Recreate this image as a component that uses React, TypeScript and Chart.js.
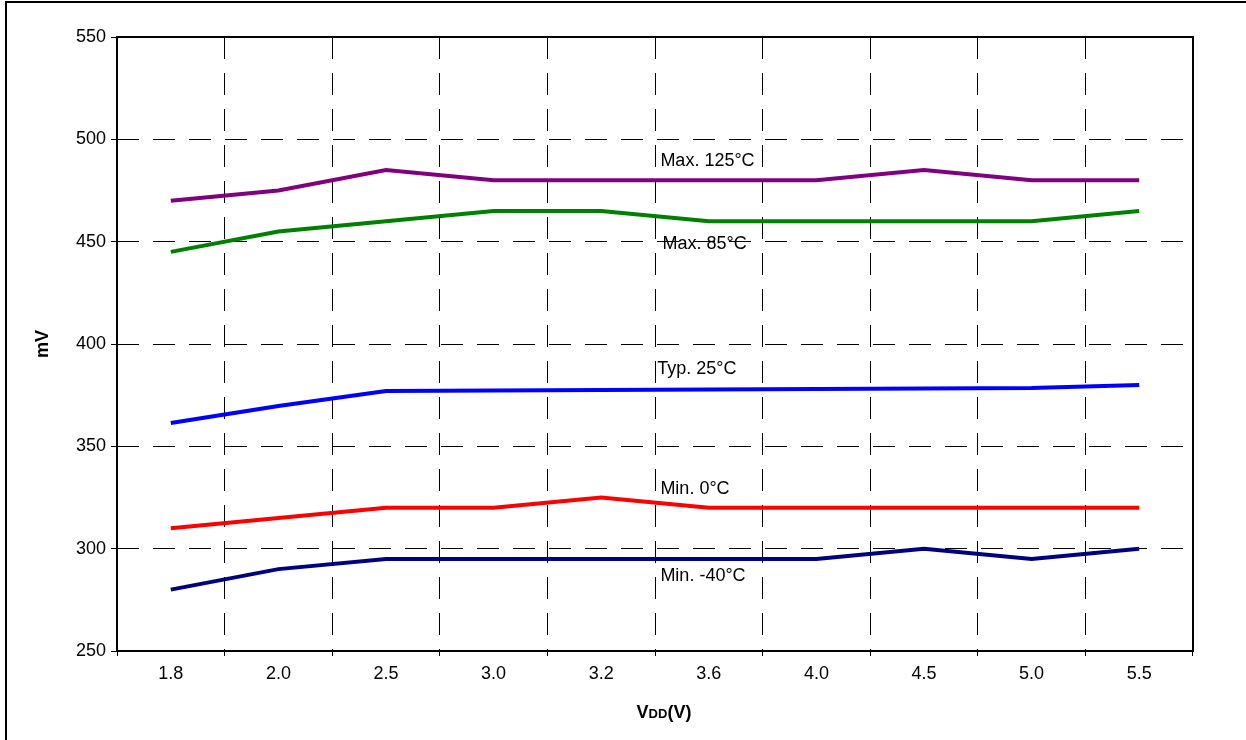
import React, { useEffect, useRef } from "react";
import { Chart, registerables } from "chart.js";

Chart.register(...registerables);

const categories = ["1.8", "2.0", "2.5", "3.0", "3.2", "3.6", "4.0", "4.5", "5.0", "5.5"];
const max125 = [470, 475, 485, 480, 480, 480, 480, 485, 480, 480];
const max85 = [445, 455, 460, 465, 465, 460, 460, 460, 460, 465];
const typ25 = [361.4, 369.7, 377, 377.3, 377.5, 377.8, 378, 378.3, 378.5, 380];
const min0 = [310, 315, 320, 320, 325, 320, 320, 320, 320, 320];
const minNeg40 = [280, 290, 295, 295, 295, 295, 295, 300, 295, 300];

const seriesNames = ["Max. 125°C", "Max. 85°C", "Typ. 25°C", "Min. 0°C", "Min. -40°C"];
const seriesColors = ["#800080", "#008000", "#0000FF", "#FF0000", "#000080"];
// label anchors in data units: [category index, value]
const labelX = [4.55, 4.57, 4.52, 4.55, 4.55];
const labelY = [489.5, 448.8, 388, 329.1, 286.4];

const yMin = 250;
const yMax = 550;
const yStep = 50;

const FONT = "'Liberation Sans', Arial, sans-serif";

const decorPlugin = {
  id: "decor",
  afterDraw(chart: any) {
    const ctx = chart.ctx;
    const a = chart.chartArea;
    ctx.save();
    // outer frame (left & top)
    ctx.strokeStyle = "#000";
    ctx.lineWidth = 2;
    ctx.beginPath();
    ctx.moveTo(6, 740);
    ctx.lineTo(6, 2);
    ctx.lineTo(1246, 2);
    ctx.stroke();
    // plot frame
    ctx.strokeRect(a.left, a.top, a.right - a.left, a.bottom - a.top);

    // series labels
    const xs = chart.scales.x;
    const ys = chart.scales.y;
    ctx.fillStyle = "#000";
    ctx.font = `18px ${FONT}`;
    ctx.textAlign = "left";
    ctx.textBaseline = "middle";
    for (let i = 0; i < seriesNames.length; i++) {
      ctx.fillText(seriesNames[i], xs.getPixelForValue(labelX[i]), ys.getPixelForValue(labelY[i]));
    }

    // y title
    ctx.font = `bold 18px ${FONT}`;
    ctx.save();
    ctx.translate(43, (a.top + a.bottom) / 2);
    ctx.rotate(-Math.PI / 2);
    ctx.textAlign = "center";
    ctx.textBaseline = "middle";
    ctx.fillText("mV", 0, 0);
    ctx.restore();

    // x title: V DD (V)
    const big = `bold 18px ${FONT}`;
    const small = `bold 13px ${FONT}`;
    ctx.textBaseline = "alphabetic";
    ctx.textAlign = "left";
    ctx.font = big;
    const w1 = ctx.measureText("V").width;
    const w3 = ctx.measureText("(V)").width;
    ctx.font = small;
    const w2 = ctx.measureText("DD").width;
    const total = w1 + w2 + w3;
    let x = (a.left + a.right) / 2 + 9 - total / 2;
    const base = 718;
    ctx.font = big;
    ctx.fillText("V", x, base);
    x += w1;
    ctx.font = small;
    ctx.fillText("DD", x, base);
    x += w2;
    ctx.font = big;
    ctx.fillText("(V)", x, base);
    ctx.restore();
  },
};

export default function App() {
  const ref = useRef<HTMLCanvasElement | null>(null);
  useEffect(() => {
    if (!ref.current) return;
    const data = [max125, max85, typ25, min0, minNeg40];
    const chart = new Chart(ref.current, {
      type: "line",
      data: {
        labels: categories,
        datasets: data.map((d, i) => ({
          label: seriesNames[i],
          data: d,
          borderColor: seriesColors[i],
          backgroundColor: seriesColors[i],
          borderWidth: 4,
          pointRadius: 0,
          tension: 0,
          fill: false,
        })),
      },
      options: {
        responsive: false,
        animation: false,
        layout: { padding: { left: 0, top: 37, right: 53, bottom: 0 } },
        plugins: {
          legend: { display: false },
          tooltip: { enabled: false },
          title: { display: false },
        },
        scales: {
          x: {
            type: "category",
            offset: true,
            grid: {
              offset: true,
              color: "#000",
              lineWidth: 1,
              drawTicks: true,
              tickLength: 5,
              tickColor: "#000",
            },
            border: { display: false, dash: [22, 14] },
            ticks: {
              color: "#000",
              font: { family: FONT, size: 18 },
              padding: 7,
              maxRotation: 0,
              autoSkip: false,
            },
            afterFit(scale: any) {
              scale.height = 89;
            },
          },
          y: {
            min: yMin,
            max: yMax,
            grid: {
              color: "#000",
              lineWidth: 1,
              drawTicks: true,
              tickLength: 6,
              tickColor: "#000",
            },
            border: { display: false, dash: [22, 14] },
            ticks: {
              stepSize: yStep,
              color: "#000",
              font: { family: FONT, size: 18 },
              padding: 5,
            },
            afterFit(scale: any) {
              scale.width = 117;
            },
          },
        },
      },
      plugins: [decorPlugin],
    });
    return () => chart.destroy();
  }, []);
  return (
    <div style={{ position: "absolute", left: 0, top: 0, width: 1246, height: 740, background: "#fff" }}>
      <canvas ref={ref} width={1246} height={740} style={{ display: "block" }} />
    </div>
  );
}
